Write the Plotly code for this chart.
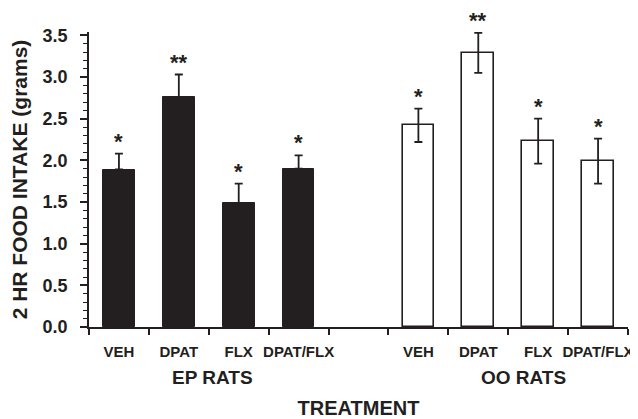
import plotly.graph_objects as go

categories = ["VEH", "DPAT", "FLX", "DPAT/FLX"]
groups = ["EP RATS", "OO RATS"]
ep_values = [1.89, 2.76, 1.49, 1.90]
ep_errors = [0.19, 0.27, 0.23, 0.16]
oo_values = [2.42, 3.29, 2.23, 1.99]
oo_errors = [0.20, 0.24, 0.27, 0.27]
ep_marks = ["*", "**", "*", "*"]
oo_marks = ["*", "**", "*", "*"]
y_ticks = [0.0, 0.5, 1.0, 1.5, 2.0, 2.5, 3.0, 3.5]

ink = "#231f20"
font_family = "Liberation Sans, Arial, Helvetica, sans-serif"

ep_x = list(range(len(categories)))
oo_x = [i + len(categories) + 1 for i in range(len(categories))]

fig = go.Figure()
fig.add_trace(go.Bar(
    x=ep_x, y=ep_values, width=0.53,
    marker=dict(color=ink, line=dict(color=ink, width=1)),
    error_y=dict(type="data", array=ep_errors, arrayminus=[0]*4, symmetric=False,
                 color=ink, thickness=1.8, width=4),
    showlegend=False,
))
fig.add_trace(go.Bar(
    x=oo_x, y=oo_values, width=0.53,
    marker=dict(color="white", line=dict(color=ink, width=1.6)),
    error_y=dict(type="data", array=oo_errors, color=ink, thickness=1.8, width=4),
    showlegend=False,
))

# significance marks
for xs, vals, errs, marks in [(ep_x, ep_values, ep_errors, ep_marks),
                              (oo_x, oo_values, oo_errors, oo_marks)]:
    for x, v, e, m in zip(xs, vals, errs, marks):
        fig.add_annotation(x=x, y=v + e, text=m, showarrow=False,
                           yanchor="bottom", yshift=-2,
                           font=dict(size=22, color=ink, family=font_family))

# group labels
fig.add_annotation(x=(ep_x[0] + ep_x[-1]) / 2 + 0.06, y=0, yref="y", yshift=-50,
                   text=groups[0], showarrow=False, yanchor="middle",
                   font=dict(size=19, color=ink, family=font_family, weight="bold"))
fig.add_annotation(x=(oo_x[0] + oo_x[-1]) / 2 + 0.25, y=0, yref="y", yshift=-50,
                   text=groups[1], showarrow=False, yanchor="middle",
                   font=dict(size=19, color=ink, family=font_family, weight="bold"))

tickvals = ep_x + oo_x
ticktext = categories + categories

# the page body adds an 8px offset, so the figure is sized to fit the window
fig.update_layout(
    width=630, height=411,
    margin=dict(l=81, r=10, t=24, b=92),
    paper_bgcolor="white", plot_bgcolor="white",
    font=dict(family=font_family, color=ink, weight="bold"),
    bargap=0,
    xaxis=dict(
        range=[-0.5, 8.5], automargin=False,
        tickvals=tickvals, ticktext=ticktext,
        ticks="", showline=True, linecolor=ink, linewidth=1.6,
        showgrid=False, zeroline=False,
        ticklabelstandoff=10, ticklabeloverflow="allow",
        tickfont=dict(size=15, color=ink, family=font_family, weight="bold"),
        minor=dict(tickmode="linear", tick0=-0.5, dtick=1, ticks="outside",
                   ticklen=6, tickwidth=1.6, tickcolor=ink, showgrid=False),
        title=dict(text="TREATMENT", standoff=42,
                   font=dict(size=20, color=ink, family=font_family, weight="bold")),
    ),
    yaxis=dict(
        range=[0, 3.54], automargin=False,
        tickvals=y_ticks, tickformat=".1f",
        ticks="outside", ticklen=7, tickwidth=1.6, tickcolor=ink,
        ticklabelstandoff=9,
        showline=True, linecolor=ink, linewidth=1.6,
        showgrid=False, zeroline=False,
        tickfont=dict(size=18, color=ink, family=font_family, weight="bold"),
        minor=dict(tickmode="linear", tick0=0, dtick=0.1, ticks="outside",
                   ticklen=4, tickwidth=1, tickcolor=ink, showgrid=False),
        title=dict(text="2 HR FOOD INTAKE (grams)", standoff=9,
                   font=dict(size=21, color=ink, family=font_family, weight="bold")),
    ),
)

fig.write_html("out.html")
